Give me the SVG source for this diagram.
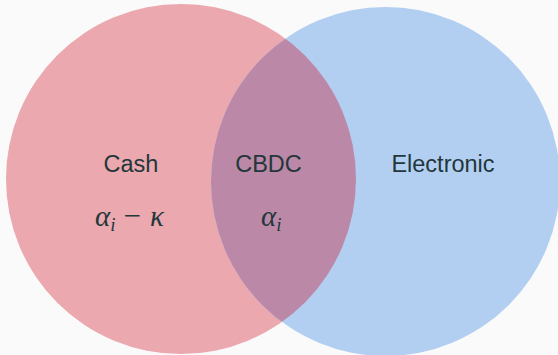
<svg xmlns="http://www.w3.org/2000/svg" width="558" height="355" viewBox="0 0 558 355">
  <style>
    .lbl { font-family: "Liberation Sans", "DejaVu Sans", sans-serif; font-size: 23.5px; fill: #23373B; text-anchor: middle; }
    .math { font-family: "Liberation Serif", "DejaVu Serif", serif; font-style: italic; fill: #23373B; }
    .op { font-family: "Liberation Serif", "DejaVu Serif", serif; fill: #23373B; }
  </style>
  <defs>
    <clipPath id="clipCash">
      <circle cx="181" cy="179" r="175"/>
    </clipPath>
  </defs>
  <rect width="558" height="355" fill="#FAFAFA"/>
  <g id="cash">
    <circle cx="181" cy="179" r="175" fill="#EBA8AF"/>
  </g>
  <g id="electronic">
    <circle cx="385.5" cy="181.5" r="174.5" fill="#B2CFF2"/>
  </g>
  <g id="cbdc">
    <circle cx="385.5" cy="181.5" r="174.5" fill="#BB89A7" clip-path="url(#clipCash)"/>
  </g>
  <g id="labels">
    <text class="lbl" x="131" y="172">Cash</text>
    <text class="lbl" x="268.5" y="172">CBDC</text>
    <text class="lbl" x="443" y="172">Electronic</text>
    <text x="95" y="226"><tspan class="math" font-size="29">α</tspan><tspan class="math" font-size="19" dy="5">i</tspan><tspan class="op" font-size="31" dx="8" dy="-5">−</tspan><tspan class="math" font-size="29" dx="9">κ</tspan></text>
    <text x="261" y="226"><tspan class="math" font-size="29">α</tspan><tspan class="math" font-size="19" dy="5">i</tspan></text>
  </g>
</svg>
